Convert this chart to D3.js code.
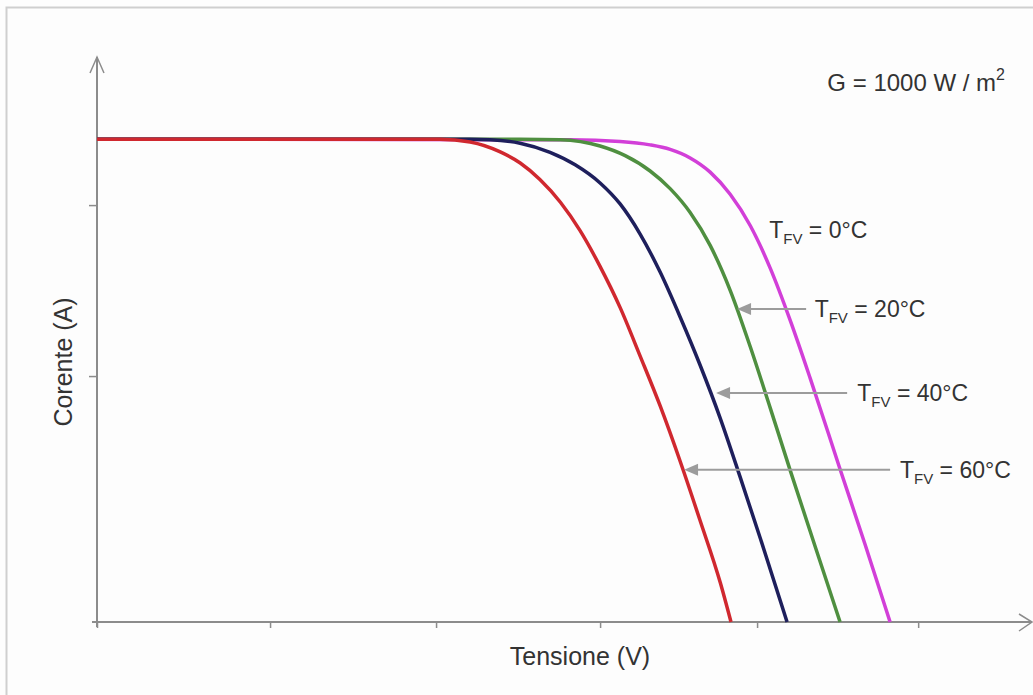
<!DOCTYPE html>
<html>
<head>
<meta charset="utf-8">
<script src="https://cdn.jsdelivr.net/npm/d3@7"></script>
<style>
  html, body { margin: 0; padding: 0; background: #fdfdfd; }
  text { font-family: "Liberation Sans", Arial, sans-serif; fill: #333; }
</style>
</head>
<body>
<svg width="1033" height="695"></svg>
<script>
// **** Data (Tensione in V, Corrente in A) ****

var temps = ['0', '20', '40', '60'];
var colors = ['#d23fd8', '#4f8f40', '#1e1f5c', '#d0282f'];

var v0 = [0, 28.84, 31.89, 33.72, 34.94, 36.16, 37.38, 38.6, 39.82, 41.04, 42.26, 43.48, 45.3, 46.83, 48.35];
var i0 = [8.50, 8.49, 8.46, 8.40, 8.32, 8.17, 7.92, 7.53, 6.98, 6.23, 5.31, 4.29, 2.69, 1.36, 0];

var v20 = [0, 25.79, 28.23, 30.67, 32.2, 33.72, 34.94, 36.16, 37.38, 38.6, 39.82, 41.04, 42.26, 43.78, 45.3];
var i20 = [8.50, 8.50, 8.49, 8.38, 8.21, 7.94, 7.63, 7.21, 6.63, 5.84, 4.85, 3.77, 2.67, 1.33, 0];

var v40 = [0, 22.74, 23.96, 25.79, 27.62, 29.15, 30.67, 31.89, 33.11, 34.33, 35.55, 36.77, 37.99, 39.21, 40.43, 42.07];
var i40 = [8.50, 8.50, 8.49, 8.43, 8.27, 8.05, 7.73, 7.36, 6.83, 6.16, 5.37, 4.52, 3.59, 2.55, 1.48, 0];

var v60 = [0, 20.9, 22.75, 24.55, 25.8, 27.0, 28.25, 29.45, 30.65, 31.9, 33.1, 34.35, 35.55, 36.75, 38.0, 38.65];
var i60 = [8.50, 8.50, 8.45, 8.28, 8.08, 7.79, 7.39, 6.89, 6.27, 5.53, 4.69, 3.79, 2.83, 1.80, 0.69, 0];

var xTicks = [0, 10.55, 20.67, 30.67, 40.24, 50.06];
var yTicks = [4.33, 7.34];

// labels + arrows (null = no arrow)
var labelV = [40.98, 43.75, 46.35, 48.95];
var labelI = [6.90, 5.51, 4.03, 2.68];
var arrowTipV = [null, 39.02, 37.74, 35.79];
var arrowTailV = [null, 43.23, 45.73, 48.35];

// **** Scales ****

var xScale = d3.scaleLinear().domain([0, 57]).range([97, 1032]);
var yScale = d3.scaleLinear().domain([0, 10]).range([622, 54]);

var svg = d3.select('svg');
var axisColor = '#8c8c8c';

// frame
svg.append('path')
    .attr('d', 'M6.5,695 L6.5,7.5 L1033,7.5')
    .attr('fill', 'none')
    .attr('stroke', '#cfcfcf')
    .attr('stroke-width', 2);

// **** Axes ****

var xAxis = svg.append('g')
    .attr('transform', 'translate(0,' + yScale(0) + ')')
    .call(d3.axisBottom(xScale).tickValues(xTicks).tickSize(6).tickFormat(''));
var yAxis = svg.append('g')
    .attr('transform', 'translate(' + xScale(0) + ',0)')
    .call(d3.axisLeft(yScale).tickValues(yTicks).tickSize(8).tickFormat(''));

[xAxis, yAxis].forEach(function(ax) {
    ax.select('.domain').remove();
    ax.selectAll('line').attr('stroke', axisColor).attr('stroke-width', 1.5);
});

// axis lines with open arrow heads
svg.append('line')
    .attr('x1', xScale(0) - 5).attr('x2', xScale(57))
    .attr('y1', yScale(0)).attr('y2', yScale(0))
    .attr('stroke', axisColor).attr('stroke-width', 2);
svg.append('path')
    .attr('d', 'M' + (xScale(57) - 13) + ',' + (yScale(0) - 8) + ' L' + xScale(57) + ',' + yScale(0) +
        ' L' + (xScale(57) - 13) + ',' + (yScale(0) + 9))
    .attr('fill', 'none').attr('stroke', axisColor).attr('stroke-width', 1.5);

svg.append('line')
    .attr('x1', xScale(0)).attr('x2', xScale(0))
    .attr('y1', yScale(0) + 5).attr('y2', yScale(10) + 3)
    .attr('stroke', axisColor).attr('stroke-width', 2);
svg.append('path')
    .attr('d', 'M' + (xScale(0) - 7) + ',' + (yScale(10) + 19) + ' L' + xScale(0) + ',' + (yScale(10) + 3) +
        ' L' + (xScale(0) + 7) + ',' + (yScale(10) + 19))
    .attr('fill', 'none').attr('stroke', axisColor).attr('stroke-width', 1.5);

// axis titles
svg.append('text')
    .attr('x', 580).attr('y', 665)
    .attr('text-anchor', 'middle')
    .attr('font-size', 25)
    .text('Tensione (V)');

svg.append('text')
    .attr('transform', 'translate(72,362) rotate(-90)')
    .attr('text-anchor', 'middle')
    .attr('font-size', 25)
    .text('Corente (A)');

// irradiance note
var g = svg.append('text')
    .attr('x', 1005).attr('y', 91)
    .attr('text-anchor', 'end')
    .attr('font-size', 24);
g.append('tspan').text('G = 1000 W / m');
g.append('tspan').attr('font-size', 16).attr('dy', -11).text('2');

// **** Curves ****

var line = d3.line()
    .x(function(d) { return xScale(d.v); })
    .y(function(d) { return yScale(d.i); })
    .curve(d3.curveMonotoneX);

var curves = [[v0, i0], [v20, i20], [v40, i40], [v60, i60]].map(function(c) {
    return c[0].map(function(v, k) { return { v: v, i: c[1][k] }; });
});

svg.selectAll('path.curve')
    .data(curves)
    .enter()
    .append('path')
    .attr('class', 'curve')
    .attr('d', line)
    .attr('fill', 'none')
    .attr('stroke', function(d, k) { return colors[k]; })
    .attr('stroke-width', 3.5);

// **** Labels and pointer arrows ****

temps.forEach(function(t, k) {
    if (arrowTipV[k] !== null) {
        var y = yScale(labelI[k]);
        var tip = xScale(arrowTipV[k]);
        svg.append('line')
            .attr('x1', tip + 10).attr('x2', xScale(arrowTailV[k]))
            .attr('y1', y).attr('y2', y)
            .attr('stroke', '#9c9c9c').attr('stroke-width', 2);
        svg.append('path')
            .attr('d', 'M' + tip + ',' + y + ' L' + (tip + 14) + ',' + (y - 6) + ' L' + (tip + 14) + ',' + (y + 6) + 'Z')
            .attr('fill', '#9c9c9c');
    }
    var txt = svg.append('text')
        .attr('x', xScale(labelV[k]))
        .attr('y', yScale(labelI[k]) + 8)
        .attr('font-size', 23);
    txt.append('tspan').text('T');
    txt.append('tspan').attr('font-size', 15).attr('dy', 6).text('FV');
    txt.append('tspan').attr('dy', -6).text(' = ' + t + '°C');
});
</script>
</body>
</html>
